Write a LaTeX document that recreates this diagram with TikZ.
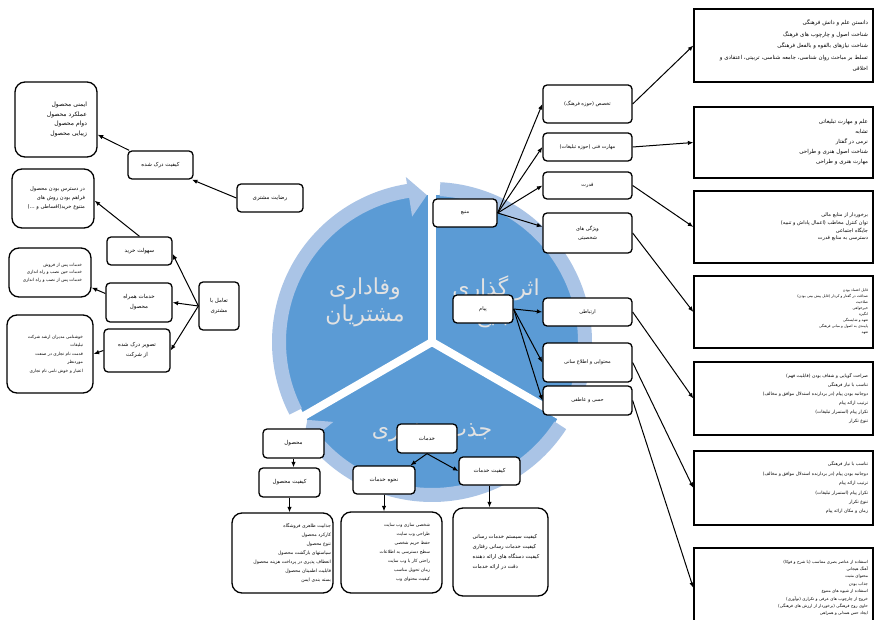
\documentclass[tikz,border=0pt]{standalone}
\usepackage{fontspec}
\usetikzlibrary{arrows.meta,calc}
\TeXXeTstate=1
\newfontfamily\arabicfont[Script=Arabic]{DejaVu Sans}
\newcommand\fa[1]{{\arabicfont\beginR #1\endR}}
\newcommand\fsz[2]{\fontsize{#1}{#2}\selectfont}
\definecolor{darkb}{RGB}{91,155,213}
\definecolor{lightb}{RGB}{170,196,230}
\definecolor{sectxt}{RGB}{226,226,226}
\begin{document}
\begin{tikzpicture}[x=1pt,y=-1pt,
  rbox/.style={draw, line width=1.3pt, rounded corners=4pt, fill=white, inner sep=1pt, align=center},
  bigbox/.style={draw, line width=1.3pt, rounded corners=10pt, fill=white, align=right},
  sqbox/.style={draw, line width=1.3pt, fill=white, align=right},
  arr/.style={-{Latex[length=5.5pt,width=4.5pt]}, line width=1pt},
  sect/.style={text=sectxt, align=center, font=\fsz{22}{27}}
  ]
\useasboundingbox (0,0) rectangle (875,620);
\fill[white] (0,0) rectangle (875,620);
\begin{scope}
\clip (0,0) rectangle (875,620);

% ---------- cycle ----------
\begin{scope}[shift={(432,342)}, y=1pt]
  \fill[darkb] (0,0) circle[radius=147];
  \foreach \a in {90,210,330} \draw[white, line width=8pt] (0,0) -- (\a:152);
  \foreach \s in {0,120,240} {
    \pgfmathsetmacro\T{207-\s}
    \pgfmathsetmacro\B{99-\s}
    \pgfmathsetmacro\P{92-\s}
    \fill[lightb] (\T:146) arc[start angle=\T, end angle=\B, radius=146]
      -- (\B:127) -- (\P:147) -- (\B:167) -- (\B:160)
      arc[start angle=\B, end angle=\T, radius=160] -- cycle;
  }
\end{scope}
\node[sect] (s1) at (365,302) {\fa{وفاداری}\\\fa{مشتریان}};
\node[sect] (s2) at (496,302) {\fa{اثر گذاری}\\\fa{تبلیغ}};
\node[sect] (s3) at (432,433) {\fa{جذب مشتری}};

% ---------- right column boxes ----------
\node[sqbox, minimum width=179, minimum height=73, text width=169, inner xsep=5pt, font=\fsz{5.5}{11.5}] (b1) at (783.5,45.5)
  {\fa{دانستن علم و دانش فرهنگی}\\\fa{شناخت اصول و چارچوب های فرهنگ}\\\fa{شناخت نیازهای بالقوه و بالفعل فرهنگی}\\\fa{تسلط بر مباحث روان شناسی، جامعه شناسی، تربیتی، اعتقادی و}\\\fa{اخلاقی}};
\node[sqbox, minimum width=179, minimum height=71, text width=169, inner xsep=5pt, font=\fsz{5.5}{10}] (b2) at (783.5,142.5)
  {\fa{علم و مهارت تبلیغاتی}\\\fa{تشابه}\\\fa{نرمی در گفتار}\\\fa{شناخت اصول هنری و طراحی}\\\fa{مهارت هنری و طراحی}};
\node[sqbox, minimum width=179, minimum height=72, text width=169, inner xsep=5pt, font=\fsz{5}{7.8}] (b3) at (783.5,227)
  {\fa{برخوردار از منابع مالی}\\\fa{توان کنترل مخاطب (اعمال پاداش و تنبیه)}\\\fa{جایگاه اجتماعی}\\\fa{دسترسی به منابع قدرت}};
\node[sqbox, minimum width=179, minimum height=72, text width=169, inner xsep=5pt, font=\fsz{3.6}{6}] (b4) at (783.5,312)
  {\fa{قابل اعتماد بودن}\\\fa{صداقت در گفتار و کردار (قابل پیش بینی بودن)}\\\fa{صلاحیت}\\\fa{خیرخواهی}\\\fa{انگیزه}\\\fa{تعهد و شایستگی}\\\fa{پایبندی به اصول و مبانی فرهنگی}\\\fa{تعهد}};
\node[sqbox, minimum width=179, minimum height=73, text width=169, inner xsep=5pt, font=\fsz{4.5}{9}] (b5) at (783.5,398.5)
  {\fa{صراحت گویایی و شفاف بودن (قابلیت فهم)}\\\fa{تناسب با نیاز فرهنگی}\\\fa{دوجانبه بودن پیام (در بردارنده استدلال موافق و مخالف)}\\\fa{ترتیب ارائه پیام}\\\fa{تکرار پیام (استمرار تبلیغات)}\\\fa{تنوع تکرار}};
\node[sqbox, minimum width=179, minimum height=74, text width=169, inner xsep=5pt, font=\fsz{4.5}{9.4}] (b6) at (783.5,488)
  {\fa{تناسب با نیاز فرهنگی}\\\fa{دوجانبه بودن پیام (در بردارنده استدلال موافق و مخالف)}\\\fa{ترتیب ارائه پیام}\\\fa{تکرار پیام (استمرار تبلیغات)}\\\fa{تنوع تکرار}\\\fa{زمان و مکان ارائه پیام}};
\node[sqbox, minimum width=179, minimum height=80, text width=169, inner xsep=5pt, font=\fsz{4.1}{7.4}] (b7) at (783.5,588)
  {\fa{استفاده از عناصر بصری متناسب (با شرح و فوکا)}\\\fa{آهنگ هیجانی}\\\fa{محتوای مثبت}\\\fa{جذاب بودن}\\\fa{استفاده از شیوه های متنوع}\\\fa{خروج از چارچوب های عرفی و تکراری (نوآوری)}\\\fa{حاوی روح فرهنگی (برخوردار از ارزش های فرهنگی)}\\\fa{ایجاد حس همدلی و همراهی}};

% ---------- second column ----------
\node[rbox, minimum width=89, minimum height=38, font=\fsz{5}{8}] (n1) at (587.5,104) {\fa{تخصص (حوزه فرهنگ)}};
\node[rbox, minimum width=89, minimum height=28, font=\fsz{5}{8}] (n2) at (587.5,147) {\fa{مهارت فنی (حوزه تبلیغات)}};
\node[rbox, minimum width=89, minimum height=27, font=\fsz{5}{8}] (n3) at (587.5,185.5) {\fa{قدرت}};
\node[rbox, minimum width=89, minimum height=40, font=\fsz{5}{9}] (n4) at (587.5,233) {\fa{ویژگی های}\\\fa{شخصیتی}};
\node[rbox, minimum width=89, minimum height=28, font=\fsz{5}{8}] (n5) at (587.5,312) {\fa{ارتباطی}};
\node[rbox, minimum width=89, minimum height=39, font=\fsz{5}{8}] (n6) at (587.5,362.5) {\fa{محتوایی و اطلاع سانی}};
\node[rbox, minimum width=89, minimum height=29, font=\fsz{5}{8}] (n7) at (587.5,400.5) {\fa{حسی و عاطفی}};
\node[rbox, minimum width=64, minimum height=28, font=\fsz{5}{8}] (mb) at (465,213) {\fa{منبع}};
\node[rbox, minimum width=60, minimum height=28, font=\fsz{5}{8}] (pm) at (483,309) {\fa{پیام}};

% ---------- left side ----------
\node[bigbox, minimum width=82, minimum height=75, text width=62, inner xsep=10pt, font=\fsz{6}{9.7}] (qa) at (56,119.5)
  {\fa{ایمنی محصول}\\\fa{عملکرد محصول}\\\fa{دوام محصول}\\\fa{زیبایی محصول}};
\node[rbox, minimum width=65, minimum height=28, font=\fsz{5.5}{8}] (kd) at (160.5,165) {\fa{کیفیت درک شده}};
\node[rbox, minimum width=66, minimum height=28, font=\fsz{5.5}{8}] (rz) at (270,198) {\fa{رضایت مشتری}};
\node[bigbox, minimum width=82, minimum height=59, text width=64, inner xsep=9pt, font=\fsz{5.2}{9}] (qb) at (53,198.5)
  {\fa{در دسترس بودن محصول}\\\fa{فراهم بودن روش های}\\\fa{متنوع خرید(اقساطی و ...)}};
\node[rbox, minimum width=65, minimum height=28, font=\fsz{5.5}{8}] (sh) at (139.5,251) {\fa{سهولت خرید}};
\node[rbox, minimum width=66, minimum height=39, font=\fsz{5.5}{10}] (khm) at (139,302.5) {\fa{خدمات همراه}\\\fa{محصول}};
\node[rbox, minimum width=40, minimum height=48, font=\fsz{5.5}{10}] (tm) at (219,306) {\fa{تعامل با}\\\fa{مشتری}};
\node[rbox, minimum width=66, minimum height=43, font=\fsz{5.5}{10}] (tz) at (137,350.5) {\fa{تصویر درک شده}\\\fa{از شرکت}};
\node[bigbox, minimum width=82, minimum height=49, text width=64, inner xsep=9pt, font=\fsz{4.3}{7.5}] (qc) at (50,272.5)
  {\fa{خدمات پس از فروش}\\\fa{خدمات حین نصب و راه اندازی}\\\fa{خدمات پس از نصب و راه اندازی}};
\node[bigbox, minimum width=86, minimum height=78, text width=66, inner xsep=10pt, font=\fsz{4.3}{8.5}] (qd) at (50,354)
  {\fa{خوشنامی مدیران ارشد شرکت}\\\fa{تبلیغات}\\\fa{قدمت نام تجاری در صنعت}\\\fa{موردنظر}\\\fa{اعتبار و خوش نامی نام تجاری}};

% ---------- bottom ----------
\node[rbox, minimum width=61, minimum height=29, font=\fsz{5.5}{8}] (mh) at (293.5,443.5) {\fa{محصول}};
\node[rbox, minimum width=61, minimum height=29, font=\fsz{5.5}{8}] (km) at (289.5,482.5) {\fa{کیفیت محصول}};
\node[bigbox, minimum width=101, minimum height=80, text width=97, inner xsep=2pt, font=\fsz{4.6}{9}] (qe) at (282.5,553)
  {\fa{جذابیت ظاهری فروشگاه}\\\fa{کارکرد محصول}\\\fa{تنوع محصول}\\\fa{سیاستهای بازگشت محصول}\\\fa{انعطاف پذیری در پرداخت هزینه محصول}\\\fa{قابلیت اطمینان محصول}\\\fa{بسته بندی ایمن}};
\node[rbox, minimum width=60, minimum height=29, font=\fsz{5.5}{8}] (kh) at (427,438.5) {\fa{خدمات}};
\node[rbox, minimum width=62, minimum height=28, font=\fsz{5.5}{8}] (nh) at (384,480) {\fa{نحوه خدمات}};
\node[rbox, minimum width=61, minimum height=28, font=\fsz{5.5}{8}] (kk) at (489.5,471) {\fa{کیفیت خدمات}};
\node[bigbox, minimum width=101, minimum height=81, text width=77, inner xsep=12pt, font=\fsz{4.4}{9}] (qf) at (391.5,552.5)
  {\fa{شخصی سازی وب سایت}\\\fa{طراحی وب سایت}\\\fa{حفظ حریم شخصی}\\\fa{سطح دسترسی به اطلاعات}\\\fa{راحتی کار با وب سایت}\\\fa{زمان تحویل مناسب}\\\fa{کیفیت محتوای وب}};
\node[bigbox, minimum width=95, minimum height=88] (qg) at (500.5,552) {};
\node[anchor=west, align=left, inner sep=0pt, font=\fsz{5.3}{10}] (qgt) at ($(qg.west)+(20,0)$)
  {\fa{کیفیت سیستم خدمات رسانی}\\\fa{کیفیت خدمات رسانی رفتاری}\\\fa{کیفیت دستگاه های ارائه دهنده}\\\fa{دقت در ارائه خدمات}};

% ---------- arrows ----------
\draw[arr] (rz.west) -- (kd.-25);
\draw[arr] (kd.155) -- (qa.-20);
\draw[arr] (sh.north) -- (qb.-3);
\draw[arr] (tm.west) -- (sh.-5);
\draw[arr] (tm.west) -- (khm.east);
\draw[arr] (tm.west) -- (tz.east);
\draw[arr] (khm.165) -- (qc.-20);
\draw[arr] (tz.west) -- (qd.east);

\draw[arr] (mh.south) -- (mh.south |- km.north);
\draw[arr] (km.south) -- (km.south |- qe.north);
\draw[arr] (kh.south) -- (nh.29);
\draw[arr] (kh.south) -- (kk.west);
\draw[arr] (nh.south) -- (nh.south |- qf.north);
\draw[arr] (kk.south) -- (kk.south |- qg.north);

\draw[arr] (mb.east) -- (n1.west);
\draw[arr] (mb.east) -- (n2.west);
\draw[arr] (mb.east) -- (n3.west);
\draw[arr] (mb.east) -- (n4.172);
\draw[arr] (pm.east) -- (n5.west);
\draw[arr] (pm.east) -- (n6.west);
\draw[arr] (pm.east) -- (n7.west);

\draw[arr] (n1.east) -- (b1.west);
\draw[arr] (n2.east) -- (b2.west);
\draw[arr] (n3.east) -- (b3.west);
\draw[arr] (n4.east) -- (b4.west);
\draw[arr] (n5.east) -- (b5.west);
\draw[arr] (n6.east) -- (b6.west);
\draw[arr] (n7.east) -- (b7.west);
\end{scope}
\end{tikzpicture}
\end{document}
